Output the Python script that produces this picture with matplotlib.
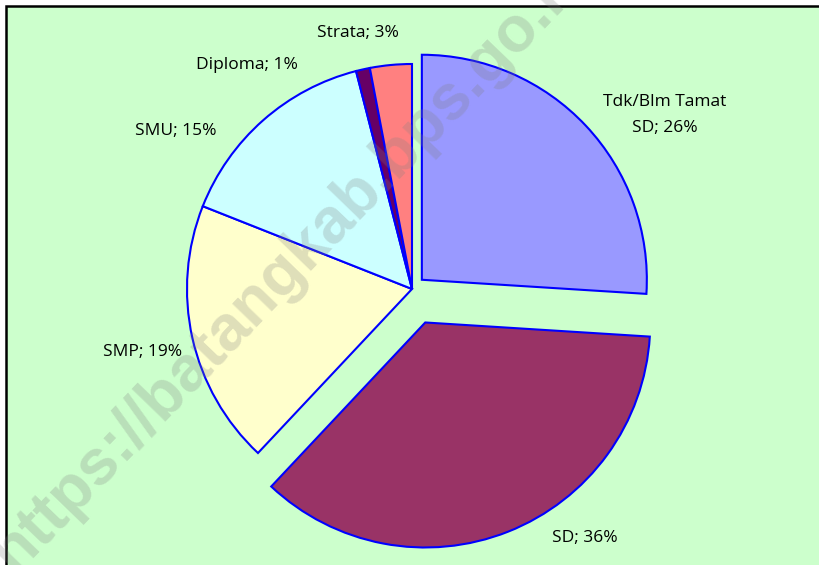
import matplotlib

matplotlib.use("Agg")
import matplotlib.pyplot as plt
from matplotlib.patches import Rectangle

# data (percent of population by education)
categories = ["Tdk/Blm Tamat\nSD", "SD", "SMP", "SMU", "Diploma", "Strata"]
shares = [26, 36, 19, 15, 1, 3]
colors = ["#9999FF", "#993366", "#FFFFCC", "#CCFFFF", "#660066", "#FF8080"]
explode = [0.06, 0.16, 0, 0, 0, 0]  # fraction of radius

# label positions in pixel space (x, y from top)
label_pos = [(665, 115), (585, 538), (143, 352), (176, 131), (247, 65), (358, 33)]

W, H = 819, 565
R = 225
fig = plt.figure(figsize=(W / 100, H / 100), dpi=100)
ax = fig.add_axes([0, 0, 1, 1])

ax.add_patch(Rectangle((6, -10), W + 20, H - 6 + 10, facecolor="#CCFFCC",
                       edgecolor="black", linewidth=1.8, zorder=0))

# matplotlib's explode is in data units, so scale by the radius
ax.pie(shares, colors=colors, explode=[e * R for e in explode], startangle=90,
       counterclock=False, radius=R, center=(412, H - 289), frame=True,
       wedgeprops=dict(edgecolor="#0000FF", linewidth=1.5))

for name, val, (x, y) in zip(categories, shares, label_pos):
    ax.text(x, H - y, f"{name}; {val}%", ha="center", va="center", fontsize=12.5,
            family="Open Sans", linespacing=1.75, zorder=5)

ax.text(292, H - 262, "https://batangkab.bps.go.id", rotation=46, ha="center",
        va="center", fontsize=46, fontweight="bold", family="Liberation Sans",
        color="#808080", alpha=0.25, zorder=6, clip_on=True)

ax.set_xlim(0, W)
ax.set_ylim(0, H)
ax.set_aspect("equal")
ax.axis("off")

fig.savefig("out.png", dpi=100, facecolor="white")
